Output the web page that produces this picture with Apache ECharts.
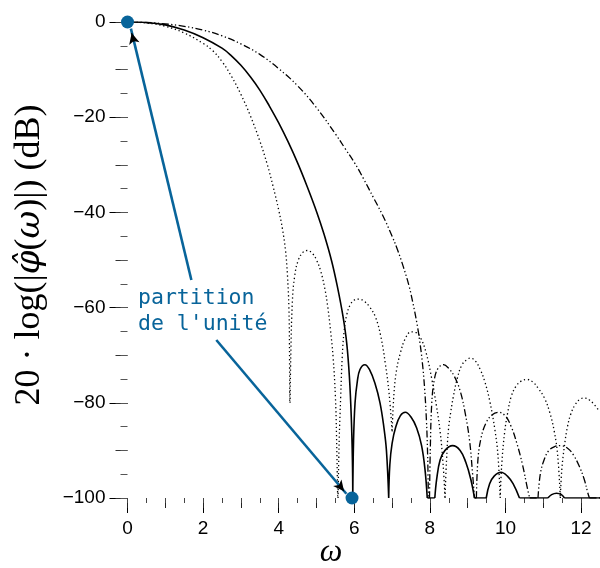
<!DOCTYPE html>
<html><head><meta charset="utf-8">
<script src="https://cdn.jsdelivr.net/npm/echarts@6/dist/echarts.min.js"></script>
<style>html,body{margin:0;padding:0;background:#fff}#c{width:600px;height:568px}</style>
</head><body><div id="c"></div>
<script>
// ---- data (omega, dB); '-' separates lobes ----
const xTickLabels = [0, 2, 4, 6, 8, 10, 12];
const yTickLabels = [0, -20, -40, -60, -80, -100];

const dotted = [
  [0,0],[0.5,-0.2],[1,-0.9],[1.5,-2.3],[2,-4.5],[2.25,-6],[2.5,-8.3],[2.75,-11.4],[3,-15.2],[3.25,-19.7],
  [3.5,-25],[3.7,-30],[3.85,-34.5],[4.0,-39.5],[4.1,-43.5],[4.18,-48],[4.23,-53],[4.27,-60],[4.285,-68],[4.29,-80],
  [4.29,'-'],
  [4.3,-80],[4.32,-70],[4.36,-59],[4.42,-53.5],[4.52,-50],[4.65,-48.3],[4.76,-48],[4.9,-48.7],[5.0,-50],[5.11,-52.3],
  [5.22,-56],[5.3,-60],[5.37,-64.7],[5.44,-70.5],[5.5,-78.7],[5.53,-87],[5.56,-100],
  [5.56,'-'],
  [5.57,-100],[5.6,-88],[5.64,-78.7],[5.68,-70.5],[5.73,-65],[5.8,-61.5],[5.9,-59.3],[6.0,-58.4],[6.12,-58.2],
  [6.25,-58.6],[6.4,-59.8],[6.56,-62],[6.7,-66],[6.82,-71.7],[6.92,-78],[7.0,-86],
  [7.0,'-'],
  [7.0,-86],[7.05,-78],[7.12,-73],[7.22,-69.5],[7.35,-66.5],[7.5,-65.1],[7.62,-65.2],[7.75,-66.3],[7.9,-69.5],[8.05,-75],
  [8.17,-80.5],[8.27,-86],[8.35,-93],[8.4,-100],
  [8.4,'-'],
  [8.4,-100],[8.44,-92],[8.49,-85.7],[8.55,-82],[8.62,-78.7],[8.72,-75],[8.85,-72],[9.0,-70.8],[9.07,-70.6],[9.2,-71.2],
  [9.33,-73],[9.45,-75.5],[9.58,-79.5],[9.72,-85.7],[9.8,-91],[9.86,-100],
  [9.86,'-'],
  [9.86,-100],[9.9,-93],[9.98,-86],[10.06,-82],[10.15,-78.7],[10.28,-76.5],[10.42,-75.4],[10.57,-75.1],[10.72,-75.6],
  [10.87,-77],[11.03,-79],[11.17,-82],[11.29,-86],[11.38,-91],[11.45,-100],
  [11.45,'-'],
  [11.45,-100],[11.49,-94],[11.56,-89],[11.64,-85],[11.73,-82.3],[11.85,-80.3],[11.98,-79.2],[12.1,-79],[12.22,-79.4],
  [12.33,-80.2],[12.45,-81.4]
];

const solid = [
  [0,0],[0.5,-0.1],[1,-0.6],[1.5,-1.7],[2,-3.3],[2.5,-5.5],[2.75,-7.1],[3,-9.1],[3.25,-11.5],[3.5,-14.3],
  [3.75,-17.6],[4,-21.2],[4.25,-25.2],[4.5,-29.6],[4.75,-34.5],[5,-39.8],[5.2,-44.6],[5.4,-50.2],[5.55,-55.5],[5.7,-61.8],
  [5.8,-67.5],[5.87,-74.5],[5.92,-83],[5.95,-92],[5.96,-100],
  [5.96,'-'],
  [5.96,-100],[5.98,-88],[6.02,-80],[6.08,-75.5],[6.15,-73],[6.28,-72],[6.4,-73],[6.55,-76],[6.68,-80],[6.78,-85],[6.85,-90],[6.91,-100],
  [6.91,'-'],
  [6.91,-100],[6.94,-93],[7.0,-88.5],[7.1,-85],[7.22,-82.7],[7.35,-82],[7.5,-83],[7.65,-85.3],[7.78,-89],[7.87,-94],[7.93,-100],
  [7.93,'-'],
  [7.93,-100],[8.13,-100],
  [8.13,'-'],
  [8.13,-100],[8.18,-96],[8.27,-92],[8.4,-90],[8.6,-89],[8.8,-90],[8.95,-92.5],[9.08,-96],[9.18,-100],
  [9.18,'-'],
  [9.18,-100],[9.49,-100],
  [9.49,'-'],
  [9.49,-100],[9.58,-97],[9.7,-95.4],[9.88,-94.6],[10.05,-95.4],[10.2,-97],[10.37,-100],
  [10.37,'-'],
  [10.37,-100],[11.12,-100],
  [11.12,'-'],
  [11.12,-100],[11.22,-99.3],[11.35,-99.0],[11.48,-99.3],[11.56,-100],
  [11.56,'-'],
  [11.56,-100],[12.5,-100]
];

const dashdot = [
  [0,0],[0.5,-0.1],[1,-0.4],[1.5,-0.9],[2,-1.7],[2.5,-2.9],[3,-4.6],[3.5,-6.8],[4,-9.8],[4.5,-13.4],[5,-18],
  [5.5,-23.5],[5.75,-26.5],[6,-29.5],[6.25,-33],[6.5,-36.8],[6.75,-40.6],[7,-45],[7.15,-48],[7.3,-51.5],
  [7.45,-55.5],[7.55,-59],[7.65,-63],[7.73,-67],[7.8,-71.5],[7.86,-77],[7.91,-84],[7.94,-91],[7.96,-100],
  [7.96,'-'],
  [7.96,-100],[7.99,-100],
  [7.99,'-'],
  [7.99,-100],[8.01,-90],[8.05,-80],[8.12,-75],[8.22,-72.7],[8.36,-72],[8.5,-72.8],[8.65,-74.5],[8.8,-77.5],
  [8.93,-82],[9.05,-88],[9.13,-95],[9.18,-100],
  [9.18,'-'],
  [9.18,-100],[9.23,-100],
  [9.23,'-'],
  [9.23,-100],[9.27,-92],[9.35,-87.5],[9.48,-84.3],[9.65,-82.5],[9.82,-82],[10.0,-82.8],[10.15,-85],[10.3,-88.5],
  [10.45,-93],[10.58,-98],[10.64,-100],
  [10.64,'-'],
  [10.64,-100],[10.86,-100],
  [10.86,'-'],
  [10.86,-100],[10.92,-95],[11.02,-92],[11.15,-90],[11.3,-89.2],[11.47,-89],[11.65,-89.6],[11.8,-91],[11.95,-93.3],
  [12.08,-96],[12.18,-99],[12.22,-100],
  [12.22,'-'],
  [12.22,-100],[12.5,-100]
];

// annotation (data units)
const annotDots = [[0, 0], [5.94, -100]];
const arrow1 = [[1.69, -54.2], [0.09, -1.4]];
const arrow2 = [[2.35, -66.8], [5.79, -99.1]];
const head1 = [[0.17, -4.2], [0.11, -2.3]];
const head2 = [[5.63, -97.6], [5.73, -98.6]];

const BLUE = '#08649a';
const chart = echarts.init(document.getElementById('c'), null, {renderer: 'canvas'});

const gridRect = {left: 127.5, top: 22, width: 475, height: 476, containLabel: false};

function xAx(g, interval, len, color, showLabel) {
  return {
    gridIndex: g, type: 'value', min: 0, max: 12.5, interval: interval, position: 'bottom',
    axisLine: {show: false, onZero: false}, splitLine: {show: false},
    axisTick: {show: true, length: len, lineStyle: {color: color, width: 1}},
    axisLabel: {show: showLabel, margin: 21, color: '#000', fontSize: 19, fontFamily: 'Liberation Sans',
      showMaxLabel: false,
      formatter: v => (xTickLabels.indexOf(v) >= 0 ? String(v) : '')}
  };
}
function yAx(g, interval, len, color, showLabel) {
  return {
    gridIndex: g, type: 'value', min: -100, max: 0, interval: interval, position: 'left',
    axisLine: {show: false, onZero: false}, splitLine: {show: false},
    axisTick: {show: true, length: len, lineStyle: {color: color, width: 1}},
    axisLabel: {show: showLabel, margin: 22, color: '#000', fontSize: 19, fontFamily: 'Liberation Sans',
      formatter: v => (yTickLabels.indexOf(v) >= 0 ? (v === 0 ? '0' : '\u2212' + Math.abs(v)) : '')}
  };
}

const SM = 0.4;
chart.setOption({
  animation: false,
  backgroundColor: '#fff',
  grid: [gridRect, gridRect, gridRect],
  xAxis: [xAx(0, 2, 15, '#000', true), xAx(1, 1, 10, '#222', false), xAx(2, 0.5, 5, '#444', false)],
  yAxis: [yAx(0, 20, 18, '#000', true), yAx(1, 10, 12, '#333', false), yAx(2, 5, 7, '#555', false)],
  series: [
    {type: 'line', data: dotted, symbol: 'none', z: 2, smooth: SM, connectNulls: false,
     lineStyle: {color: '#000', width: 1.3, type: [1.3, 2.7]}},
    {type: 'line', data: dashdot, symbol: 'none', z: 2, smooth: SM, connectNulls: false,
     lineStyle: {color: '#000', width: 1.3, type: [7, 2.5, 1.3, 2.5, 1.3, 2.5]}},
    {type: 'line', data: solid, symbol: 'none', z: 3, smooth: SM, connectNulls: false,
     lineStyle: {color: '#000', width: 1.6}},
    {type: 'scatter', data: annotDots, symbol: 'circle', symbolSize: 13, clip: false, z: 10,
     itemStyle: {color: BLUE, opacity: 1},
     markLine: {silent: true, animation: false, symbol: ['none', 'none'], label: {show: false},
       lineStyle: {color: BLUE, width: 2.6, type: 'solid'},
       data: [[{coord: arrow1[0]}, {coord: arrow1[1]}], [{coord: arrow2[0]}, {coord: arrow2[1]}]]}},
    {type: 'line', data: [], symbol: 'none', z: 11,
     markLine: {silent: true, animation: false, symbol: ['none', 'arrow'], symbolSize: [8, 11], label: {show: false},
       lineStyle: {color: '#000', width: 1, type: 'solid'},
       data: [[{coord: head1[0]}, {coord: head1[1]}], [{coord: head2[0]}, {coord: head2[1]}]]}}
  ],
  graphic: [
    {type: 'text', x: 30, y: 255, rotation: Math.PI / 2, z: 20,
     style: {text: '20 \u00b7 log(|{i|\u03c6\u0302}({i|\u03c9})|) (dB)', fontSize: 36, fontFamily: 'Liberation Serif',
       fill: '#000', textAlign: 'center', textVerticalAlign: 'middle', align: 'center', verticalAlign: 'middle',
       rich: {i: {fontStyle: 'italic', fontSize: 34, fontFamily: 'DejaVu Serif'}}}},
    {type: 'text', x: 331, y: 553, z: 20,
     style: {text: '\u03c9', fontSize: 32, fontStyle: 'italic', fontFamily: 'Liberation Serif', fill: '#000',
       textAlign: 'center', textVerticalAlign: 'middle', align: 'center', verticalAlign: 'middle'}},
    {type: 'text', x: 138, y: 298, z: 20,
     style: {text: 'partition', fontSize: 21.5, fontFamily: 'DejaVu Sans Mono', fill: BLUE,
       textAlign: 'left', textVerticalAlign: 'middle', align: 'left', verticalAlign: 'middle'}},
    {type: 'text', x: 138, y: 324, z: 20,
     style: {text: "de l'unit\u00e9", fontSize: 21.5, fontFamily: 'DejaVu Sans Mono', fill: BLUE,
       textAlign: 'left', textVerticalAlign: 'middle', align: 'left', verticalAlign: 'middle'}}
  ]
});
</script></body></html>
